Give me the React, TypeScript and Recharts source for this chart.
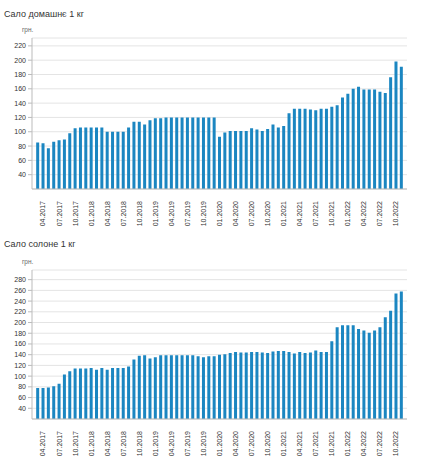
import { BarChart, Bar, XAxis, YAxis, CartesianGrid } from 'recharts';

const months = [
  '03.2017', '04.2017', '05.2017', '06.2017', '07.2017', '08.2017', '09.2017', '10.2017', '11.2017', '12.2017',
  '01.2018', '02.2018', '03.2018', '04.2018', '05.2018', '06.2018', '07.2018', '08.2018', '09.2018', '10.2018', '11.2018', '12.2018',
  '01.2019', '02.2019', '03.2019', '04.2019', '05.2019', '06.2019', '07.2019', '08.2019', '09.2019', '10.2019', '11.2019', '12.2019',
  '01.2020', '02.2020', '03.2020', '04.2020', '05.2020', '06.2020', '07.2020', '08.2020', '09.2020', '10.2020', '11.2020', '12.2020',
  '01.2021', '02.2021', '03.2021', '04.2021', '05.2021', '06.2021', '07.2021', '08.2021', '09.2021', '10.2021', '11.2021', '12.2021',
  '01.2022', '02.2022', '03.2022', '04.2022', '05.2022', '06.2022', '07.2022', '08.2022', '09.2022', '10.2022', '11.2022',
];

const monthTicks = [
  '04.2017', '07.2017', '10.2017', '01.2018', '04.2018', '07.2018', '10.2018', '01.2019',
  '04.2019', '07.2019', '10.2019', '01.2020', '04.2020', '07.2020', '10.2020', '01.2021',
  '04.2021', '07.2021', '10.2021', '01.2022', '04.2022', '07.2022', '10.2022',
];

// Сало домашнє 1 кг
const homemade = [
  85, 84, 77, 86, 88, 89, 98, 105, 106, 106,
  106, 106, 106, 100, 100, 100, 100, 106, 114, 114, 110, 116,
  119, 119, 120, 120, 120, 120, 120, 120, 120, 120, 120, 120,
  93, 99, 101, 101, 101, 101, 105, 103, 101, 104, 110, 106,
  108, 126, 132, 132, 132, 131, 130, 132, 132, 135, 137, 148,
  153, 160, 163, 159, 159, 159, 156, 154, 176, 198, 191,
];

// Сало солоне 1 кг
const salted = [
  78, 78, 79, 81, 86, 103, 109, 114, 114, 114,
  115, 112, 115, 112, 115, 115, 115, 118, 131, 138, 139, 133,
  135, 139, 139, 139, 139, 139, 139, 139, 137, 135, 137, 137,
  140, 141, 143, 145, 144, 144, 145, 145, 144, 143, 146, 147,
  147, 145, 142, 145, 143, 144, 148, 145, 145, 165, 191, 195,
  195, 195, 188, 185, 181, 185, 191, 210, 222, 254, 258,
];

const homemadeTicks = [40, 60, 80, 100, 120, 140, 160, 180, 200, 220];
const saltedTicks = [40, 60, 80, 100, 120, 140, 160, 180, 200, 220, 240, 260, 280];

const homemadeData = months.map((m, i) => ({ month: m, value: homemade[i] }));
const saltedData = months.map((m, i) => ({ month: m, value: salted[i] }));

const FONT = '"Liberation Sans", Arial, sans-serif';
const BAR = '#1b86c1';

function MonthTick({ x, y, payload }: any) {
  return (
    <g transform={`translate(${x},${y})`}>
      <text
        x={-4}
        y={0}
        dy="0.35em"
        transform="rotate(-90)"
        textAnchor="end"
        fontSize={7}
        fill="#333"
        fontFamily={FONT}
      >
        {payload.value}
      </text>
    </g>
  );
}

function PriceChart({ title, data, ticks, max, height, top, bottom }: any) {
  return (
    <div style={{ position: 'relative', width: 428, height }}>
      <div
        style={{
          position: 'absolute',
          left: 4,
          top: 9,
          fontSize: 9,
          fontFamily: FONT,
          color: '#333',
          whiteSpace: 'nowrap',
        }}
      >
        {title}
      </div>
      <div
        style={{
          position: 'absolute',
          left: 22,
          top: top - 12,
          fontSize: 6.5,
          fontFamily: FONT,
          color: '#666',
        }}
      >
        грн.
      </div>
      <BarChart
        width={428}
        height={height}
        data={data}
        margin={{ top, right: 21, bottom, left: 2 }}
        barCategoryGap="22%"
      >
        <CartesianGrid vertical={false} stroke="#e4e4e4" />
        <XAxis
          dataKey="month"
          ticks={monthTicks}
          interval={0}
          tick={<MonthTick />}
          tickLine={false}
          axisLine={{ stroke: '#bbb' }}
          height={36}
          padding={{ left: 3, right: 3 }}
        />
        <YAxis
          width={30}
          domain={[20, max]}
          ticks={ticks}
          interval={0}
          tickSize={4}
          tickMargin={2}
          tick={{ fontSize: 7, fill: '#333', fontFamily: FONT }}
          tickLine={{ stroke: '#bbb' }}
          axisLine={{ stroke: '#bbb' }}
          allowDataOverflow
        />
        <Bar dataKey="value" fill={BAR} isAnimationActive={false} />
      </BarChart>
    </div>
  );
}

export default function App() {
  return (
    <div style={{ position: 'absolute', left: 0, top: 0, width: 428, height: 458, background: '#fff' }}>
      <PriceChart title="Сало домашнє 1 кг" data={homemadeData} ticks={homemadeTicks} max={231} height={230} top={38} bottom={5} />
      <PriceChart title="Сало солоне 1 кг" data={saltedData} ticks={saltedTicks} max={298} height={228} top={40} bottom={3} />
    </div>
  );
}
